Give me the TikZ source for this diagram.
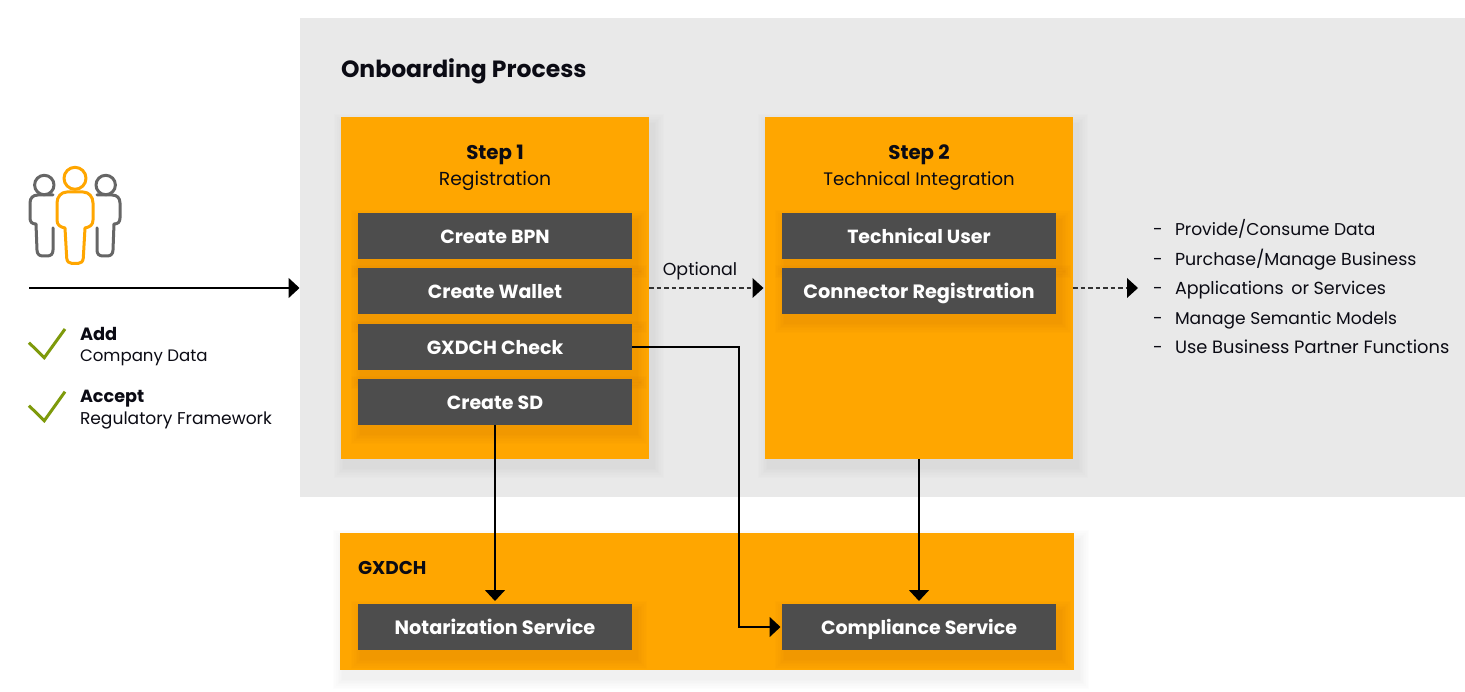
\documentclass[tikz,border=0pt]{standalone}
\usepackage{fontspec}
\setmainfont{Poppins}
\usetikzlibrary{arrows.meta,calc}
\definecolor{orangeC}{HTML}{FFA600}
\definecolor{greyC}{HTML}{4D4D4D}
\definecolor{panelC}{HTML}{E9E9E9}
\definecolor{iconC}{HTML}{666666}
\definecolor{checkC}{HTML}{7E9A0B}
\definecolor{inkC}{HTML}{0B0B14}
\tikzset{
  x=1pt,y=-1pt,
  panel/.style={fill=panelC,draw=none,inner sep=0,outer sep=0},
  stepbox/.style={fill=orangeC,draw=none,inner sep=0,outer sep=0,minimum width=308pt,minimum height=342pt},
  wide/.style={fill=orangeC,draw=none,inner sep=0,outer sep=0,minimum width=734pt,minimum height=137pt},
  service/.style={fill=greyC,draw=none,text=white,inner sep=0,outer sep=0,minimum width=274pt,minimum height=46pt,text height=16.7pt,text depth=1.3pt,font=\fontsize{19}{22}\selectfont\bfseries},
  fs/.style={font=\fontsize{#1}{21}\selectfont},
  fb/.style={font=\fontsize{#1}{21}\selectfont\bfseries},
  lbl/.style={inner sep=0,outer sep=0,text=inkC,anchor=base west,font=\fontsize{17.4}{21}\selectfont},
  lblc/.style={lbl,anchor=base},
  head/.style={lbl,font=\fontsize{18.5}{21}\selectfont\bfseries},
  headc/.style={head,anchor=base},
  solidarrow/.style={draw=black,line width=1.7pt,-{Triangle[length=11pt,width=20pt]}},
  dasharrow/.style={draw=black!80,line width=1.1pt,dash pattern=on 4.5pt off 3pt,-{Triangle[length=11pt,width=20pt,color=black,line width=0pt]}},
  iconline/.style={draw=iconC,line width=3pt,line join=round,line cap=round},
  iconorange/.style={draw=orangeC,line width=3pt,line join=round},
  checkmark/.style={draw=checkC,line width=3pt},
}
\newcommand{\softshade}[4]{%
  \foreach \k in {1,...,7}{%
    \fill[black,opacity=.009] ({#1+4-1.6*\k},{#2+8-1.6*\k}) rectangle ({#3+4+1.6*\k},{#4+8+1.6*\k});
  }}
\begin{document}
\begin{tikzpicture}
\useasboundingbox (0,0) rectangle (1465,692);
\fill[white] (0,0) rectangle (1465,692);
\node[panel,minimum width=1165pt,minimum height=479pt] (bg) at (882.5,257.5) {};
\softshade{341}{117}{649}{459}
\softshade{765}{117}{1073}{459}
\softshade{340}{533}{1074}{670}
\node[stepbox] (step1) at (495,288) {};
\node[stepbox] (step2) at (919,288) {};
\node[wide] (gxdch) at (707,601.5) {};
\softshade{358}{213}{632}{259}
\softshade{358}{268}{632}{314}
\softshade{358}{324}{632}{370}
\softshade{358}{379}{632}{425}
\softshade{782}{213}{1056}{259}
\softshade{782}{268}{1056}{314}
\softshade{358}{604}{632}{650}
\softshade{782}{604}{1056}{650}
\node[service] (bpn) at (495,236) {Create BPN};
\node[service] (wallet) at (495,291) {Create Wallet};
\node[service] (check) at (495,347) {GXDCH Check};
\node[service] (sd) at (495,402) {Create SD};
\node[service] (tech) at (919,236) {Technical User};
\node[service,font=\fontsize{19.3}{22}\selectfont\bfseries] (conn) at (919,291) {Connector Registration};
\node[service,font=\fontsize{19.3}{22}\selectfont\bfseries] (notar) at (495,627) {Notarization Service};
\node[service] (comp) at (919,627) {Compliance Service};
\node[head,fb=23.5] (title) at (341,77.5) {Onboarding Process};
\node[headc,fb=19.8] (s1a) at (495,159.7) {Step 1};
\node[lblc,fs=18.8] (s1b) at (495,185.7) {Registration};
\node[headc,fb=19.8] (s2a) at (919,159.7) {Step 2};
\node[lblc,fs=18.1] (s2b) at (919,185.7) {Technical Integration};
\node[head] (gxt) at (358,574) {GXDCH};
\node[lblc] (opt) at (700,276) {Optional};
\node[head,fb=17.8] (add) at (80,340.5) {Add};
\node[lbl,fs=16.6] (addb) at (80,362) {Company Data};
\node[head,fb=17.6] (acc) at (80,402.5) {Accept};
\node[lbl,fs=17.1] (accb) at (80,425) {Regulatory Framework};
\node[lbl] (d1) at (1153,236) {-};
\node[lbl] (d2) at (1153,265.5) {-};
\node[lbl] (d3) at (1153,295) {-};
\node[lbl] (d4) at (1153,324.5) {-};
\node[lbl] (d5) at (1153,354) {-};
\node[lbl,fs=17.1] (t1) at (1175,236) {Provide/Consume Data};
\node[lbl,fs=17.4] (t2) at (1175,265.5) {Purchase/Manage Business};
\node[lbl,fs=17.5] (t3) at (1175,295) {Applications\, or Services};
\node[lbl,fs=17.05] (t4) at (1175,324.5) {Manage Semantic Models};
\node[lbl,fs=17.85] (t5) at (1175,354) {Use Business Partner Functions};
\coordinate (inL) at (29,288);
\coordinate (inR) at (299.5,288);
\coordinate (outR) at (1138,288);
\draw[solidarrow] (inL) -- (inR);
\draw[dasharrow,shorten >=1.5pt] (step1.east) -- (step2.west);
\draw[dasharrow] (step2.east) -- (outR);
\draw[solidarrow,shorten >=3pt] (sd.south) -- (notar.north);
\draw[solidarrow,shorten >=3pt] (step2.south) -- (comp.north);
\draw[solidarrow,shorten >=1.5pt] (check.east) -- ++(107,0) |- (comp.west);
% people icon
\draw[iconline] (44.3,185) circle[radius=9.7];
\draw[iconline] (105.7,185) circle[radius=9.7];
\draw[iconline] (53,195) -- (38,195) .. controls (33,195) and (30,198) .. (30,203) -- (30,218) .. controls (30,222) and (32,224) .. (36,224) -- (37,250) .. controls (37.2,254) and (39,256) .. (43,256) -- (47,256) .. controls (51,256) and (53,254) .. (53,250) -- (53,228);
\draw[iconline] (97,195) -- (112,195) .. controls (117,195) and (120,198) .. (120,203) -- (120,218) .. controls (120,222) and (118,224) .. (114,224) -- (113,250) .. controls (112.8,254) and (111,256) .. (107,256) -- (103,256) .. controls (99,256) and (97,254) .. (97,250) -- (97,228);
\draw[iconorange,fill=white] (75,178.3) circle[radius=11];
\draw[iconorange,fill=white] (67,192) .. controls (61,192) and (57,197) .. (57,203) -- (57,220) .. controls (57,225) and (60,227) .. (65,228) -- (66.7,258) .. controls (67,261.5) and (69,263.5) .. (72,263.5) -- (78,263.5) .. controls (81,263.5) and (83,261.5) .. (83.3,258) -- (85,228) .. controls (90,227) and (93,225) .. (93,220) -- (93,203) .. controls (93,197) and (89,192) .. (83,192) -- cycle;
\draw[checkmark] (29,342.7) -- (44.3,357.7) -- (65,329);
\draw[checkmark] (29,405.7) -- (44.3,420.7) -- (65,391.7);
\end{tikzpicture}
\end{document}
